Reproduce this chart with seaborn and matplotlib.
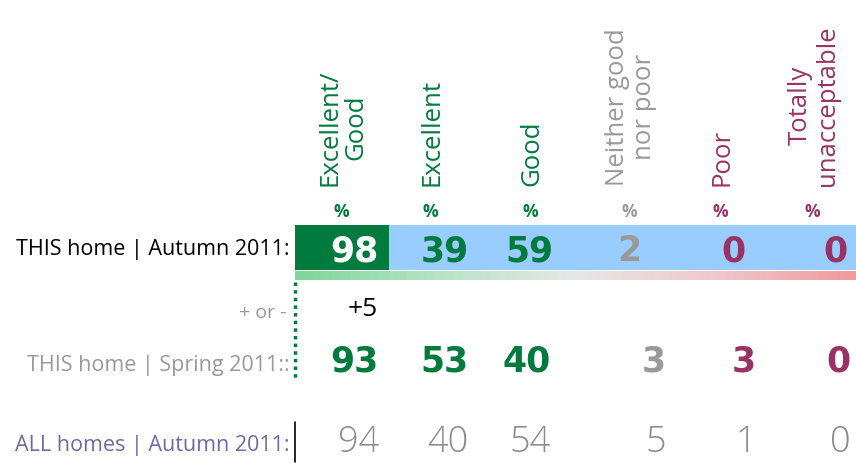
import numpy as np
import seaborn as sns
import matplotlib.pyplot as plt
from matplotlib.colors import ListedColormap, LinearSegmentedColormap

# data
categories = ["Excellent/\nGood", "Excellent", "Good", "Neither good\nnor poor", "Poor", "Totally\nunacceptable"]
this_autumn = [98, 39, 59, 2, 0, 0]
this_spring = [93, 53, 40, 3, 3, 0]
all_autumn = [94, 40, 54, 5, 1, 0]
change = "+5"
row_labels = ["THIS home | Autumn 2011:", "+ or -", "THIS home | Spring 2011::", "ALL homes | Autumn 2011:"]

GREEN = "#007a3d"
BLUE = "#99ccff"
GREY = "#999999"
PURPLE = "#993366"
col_colors = [GREEN, GREEN, GREEN, GREY, PURPLE, PURPLE]

W, H = 856, 463
sns.set_style("white")
plt.rcParams['font.family'] = ['Open Sans', 'DejaVu Sans']

fig = plt.figure(figsize=(W / 100, H / 100), dpi=100)

# highlighted row as a one-row heatmap
band_left, band_top, band_bot = 295, 225, 270
ax_band = fig.add_axes([band_left / W, 1 - band_bot / H, (W - band_left) / W, (band_bot - band_top) / H])
sns.heatmap([[0, 1, 1, 1, 1, 1]], cmap=ListedColormap([GREEN, BLUE]), cbar=False,
            xticklabels=False, yticklabels=False, ax=ax_band)

# gradient strip under the band
ax_grad = fig.add_axes([band_left / W, 1 - 280 / H, (W - band_left) / W, 9 / H])
grad_cmap = LinearSegmentedColormap.from_list("g", ["#7fd69a", "#b7e2c4", "#e6e6e6", "#efc9cc", "#f09a9c"])
sns.heatmap([np.linspace(0, 1, 60)], cmap=grad_cmap, cbar=False,
            xticklabels=False, yticklabels=False, ax=ax_grad)

# text layer on top
ax = fig.add_axes([0, 0, 1, 1])
ax.patch.set_alpha(0)
ax.set_xlim(0, W)
ax.set_ylim(H, 0)
ax.axis("off")

# column layout
header_x = [343, 432, 532, 631, 722, 814]
top_right = [379, 469, 554, 641, 746, 848]
low_right = [379, 469, 551, 666, 756, 851]
bold_num = dict(fontsize=25, fontweight="bold", family="DejaVu Sans")

for i, cat in enumerate(categories):
    ax.text(header_x[i], 186, cat, rotation=90, ha="center", va="bottom",
            color=col_colors[i], fontsize=18.5, linespacing=1.08)
    ax.text(header_x[i] - 2, 212, "%", ha="center", va="center",
            color=col_colors[i], fontsize=12.5, fontweight="bold")
    ax.text(top_right[i], 251, str(this_autumn[i]), ha="right", va="center",
            color="white" if i == 0 else col_colors[i], **bold_num)
    ax.text(low_right[i], 362, str(this_spring[i]), ha="right", va="center",
            color=col_colors[i], **bold_num)
    ax.text(low_right[i], 443, str(all_autumn[i]), ha="right", va="center",
            color="#8c8c8c", fontsize=26, fontweight="light")

ax.text(378, 310, change, ha="right", va="center", color="black", fontsize=19)

# row labels
ax.text(290, 250, row_labels[0], ha="right", va="center", color="black", fontsize=15.5)
ax.text(287, 313, row_labels[1], ha="right", va="center", color=GREY, fontsize=14)
ax.text(290, 366, row_labels[2], ha="right", va="center", color=GREY, fontsize=15.5)
ax.text(290, 446, row_labels[3], ha="right", va="center", color="#6b6ba8", fontsize=15.5)

ax.plot([295, 295], [282, 380], color=GREEN, lw=2.5, ls=(0, (1, 1.2)))
ax.plot([295, 295], [422, 462], color="black", lw=1.2)

fig.savefig("out.png", dpi=100)
